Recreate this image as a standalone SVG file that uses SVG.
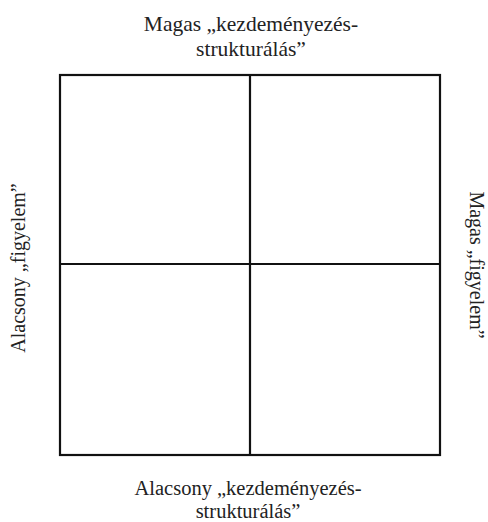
<svg xmlns="http://www.w3.org/2000/svg" width="488" height="522" viewBox="0 0 488 522">
  <style>
    .lbl { font-family: "Liberation Serif", "Times New Roman", serif; fill: #222; text-anchor: middle; }
    .h { font-size: 21.5px; }
    .b { font-size: 20.5px; }
    .v { font-size: 20px; }
    .grid { fill: none; stroke: #111; stroke-width: 2.2; }
  </style>
  <rect width="488" height="522" fill="#fff"/>
  <g id="quadrants">
    <rect class="grid" x="60" y="75" width="380" height="380"/>
  </g>
  <g id="axes">
    <line class="grid" x1="250" y1="75" x2="250" y2="455"/>
    <line class="grid" x1="60" y1="264" x2="440" y2="264"/>
  </g>
  <g id="label-top">
    <text class="lbl h" x="251" y="31">Magas „kezdeményezés-</text>
    <text class="lbl h" x="251" y="56">strukturálás”</text>
  </g>
  <g id="label-bottom">
    <text class="lbl b" x="248" y="495">Alacsony „kezdeményezés-</text>
    <text class="lbl b" x="248" y="518">strukturálás”</text>
  </g>
  <g id="label-left">
    <text class="lbl v" transform="translate(25,268) rotate(-90)">Alacsony „figyelem”</text>
  </g>
  <g id="label-right">
    <text class="lbl v" transform="translate(470,265) rotate(90)">Magas „figyelem”</text>
  </g>
</svg>
